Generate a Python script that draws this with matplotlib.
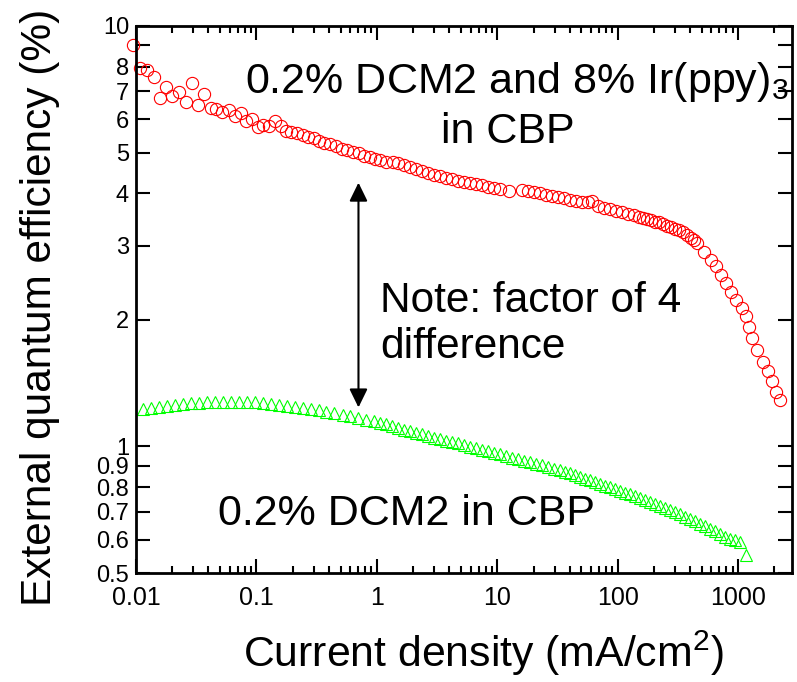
import matplotlib
matplotlib.use("Agg")
import matplotlib.pyplot as plt

plt.rcParams['font.family'] = ['Liberation Sans', 'DejaVu Sans']
plt.rcParams['mathtext.fontset'] = 'custom'
plt.rcParams['mathtext.rm'] = 'Liberation Sans'

# Red circles: 0.2% DCM2 and 8% Ir(ppy)3 in CBP
red_x = [0.0094, 0.0108, 0.0123, 0.0141, 0.0158, 0.0179, 0.0201, 0.0228, 0.0258, 0.0293,
         0.0328, 0.0368, 0.0416, 0.0466, 0.0522, 0.0594, 0.0660, 0.0740, 0.0826, 0.0926,
         0.1034, 0.1138, 0.127, 0.1436, 0.159, 0.177, 0.195, 0.216, 0.243, 0.267,
         0.298, 0.333, 0.367, 0.41, 0.46, 0.51, 0.567, 0.63, 0.71, 0.78,
         0.87, 0.97, 1.07, 1.19, 1.35, 1.51, 1.69, 1.90, 2.13, 2.39,
         2.67, 3.00, 3.37, 3.77, 4.23, 4.74, 5.32, 5.97, 6.68, 7.50,
         8.41, 9.42, 10.6, 12.6, 16.1, 18.0, 20.2, 22.7, 25.4, 28.5,
         32.0, 35.8, 40.2, 45.1, 50.5, 56.6, 61.1, 68.5, 76.9, 86.1,
         96.6, 108, 122, 136, 150, 162, 175, 188, 203, 219,
         237, 256, 276, 298, 321, 347, 374, 404, 428, 453,
         518, 592, 652, 716, 789, 867, 953, 1069, 1154, 1222,
         1294, 1422, 1596, 1754, 1893, 2045, 2208]
red_y = [9.0, 7.94, 7.85, 7.58, 6.73, 7.14, 6.82, 6.98, 6.61, 7.31,
         6.49, 6.90, 6.38, 6.34, 6.26, 6.32, 6.11, 6.20, 5.95, 6.01,
         5.76, 5.82, 5.79, 5.95, 5.79, 5.64, 5.61, 5.56, 5.51, 5.43,
         5.41, 5.34, 5.28, 5.25, 5.17, 5.10, 5.06, 5.01, 4.99, 4.91,
         4.87, 4.82, 4.80, 4.76, 4.75, 4.71, 4.66, 4.61, 4.56, 4.51,
         4.46, 4.43, 4.39, 4.36, 4.32, 4.28, 4.25, 4.23, 4.20, 4.18,
         4.15, 4.12, 4.09, 4.06, 4.08, 4.06, 4.03, 4.00, 3.97, 3.95,
         3.91, 3.89, 3.86, 3.84, 3.82, 3.81, 3.84, 3.74, 3.70, 3.67,
         3.64, 3.61, 3.58, 3.55, 3.52, 3.50, 3.47, 3.45, 3.42, 3.41,
         3.38, 3.35, 3.32, 3.29, 3.27, 3.23, 3.19, 3.14, 3.10, 3.05,
         2.90, 2.78, 2.68, 2.56, 2.45, 2.33, 2.23, 2.14, 2.04, 1.92,
         1.81, 1.70, 1.59, 1.51, 1.43, 1.35, 1.29]

# Green triangles: 0.2% DCM2 in CBP
green_x = [0.01143, 0.0133, 0.0155, 0.0181, 0.0210, 0.0245, 0.0286, 0.0333, 0.0387, 0.0451,
           0.0526, 0.0612, 0.0713, 0.0831, 0.0968, 0.1127, 0.1313, 0.153, 0.178, 0.2076,
           0.2418, 0.2817, 0.328, 0.382, 0.445, 0.519, 0.604, 0.704, 0.820, 0.955,
           1.071, 1.201, 1.346, 1.510, 1.693, 1.898, 2.128, 2.387, 2.677, 3.0,
           3.365, 3.773, 4.23, 4.745, 5.32, 5.965, 6.69, 7.50, 8.41, 9.43,
           10.57, 11.85, 13.29, 14.90, 16.71, 18.74, 21.01, 23.56, 26.41, 29.62,
           33.2, 36.5, 40.2, 44.2, 48.6, 53.5, 58.8, 64.7, 71.2, 78.3,
           86.2, 94.8, 104.3, 114.7, 126.2, 138.8, 152.7, 168.1, 184.9, 203.4,
           223.7, 246.0, 270.7, 297.8, 327.6, 360.5, 396.5, 436.1, 479.7, 527.8,
           580.6, 638.6, 702.5, 772.8, 850.3, 935.4, 1029, 1154]
green_y = [1.226, 1.233, 1.243, 1.251, 1.258, 1.262, 1.267, 1.271, 1.274, 1.277,
           1.279, 1.279, 1.279, 1.278, 1.276, 1.272, 1.265, 1.258, 1.249, 1.241,
           1.234, 1.225, 1.218, 1.208, 1.198, 1.189, 1.180, 1.170, 1.159, 1.147,
           1.137, 1.128, 1.118, 1.108, 1.097, 1.087, 1.077, 1.068, 1.059, 1.050,
           1.042, 1.033, 1.025, 1.017, 1.007, 0.998, 0.990, 0.982, 0.973, 0.965,
           0.957, 0.949, 0.941, 0.933, 0.925, 0.917, 0.909, 0.901, 0.893, 0.886,
           0.878, 0.871, 0.863, 0.855, 0.847, 0.839, 0.831, 0.823, 0.815, 0.807,
           0.800, 0.792, 0.785, 0.777, 0.769, 0.761, 0.754, 0.746, 0.738, 0.731,
           0.722, 0.714, 0.706, 0.697, 0.689, 0.680, 0.672, 0.663, 0.654, 0.646,
           0.637, 0.628, 0.618, 0.610, 0.603, 0.598, 0.591, 0.551]

x_ticks = [0.01, 0.1, 1, 10, 100, 1000]
x_ticklabels = ['0.01', '0.1', '1', '10', '100', '1000']
y_ticks = [0.5, 0.6, 0.7, 0.8, 0.9, 1, 2, 3, 4, 5, 6, 7, 8, 9, 10]
y_ticklabels = ['0.5', '0.6', '0.7', '0.8', '0.9', '1', '2', '3', '4', '5', '6', '7', '8', '', '10']
x_minor = [m * 10.0 ** e for e in range(-2, 4) for m in range(2, 10)]

fig = plt.figure(figsize=(7.97, 6.82), dpi=100)
ax = fig.add_axes([0.1706, 0.1598, 0.8231, 0.8021])
ax.set_xscale('log')
ax.set_yscale('log')
ax.set_xlim(0.01, 2800)
ax.set_ylim(0.5, 10)

ax.plot(red_x, red_y, linestyle='none', marker='o', markersize=8.8,
        markerfacecolor='none', markeredgecolor='#ff0000', markeredgewidth=0.8,
        clip_on=False)
ax.plot(green_x, green_y, linestyle='none', marker='^', markersize=8.8,
        markerfacecolor='none', markeredgecolor='#00ff00', markeredgewidth=0.8,
        clip_on=False)

ax.set_xticks(x_ticks)
ax.set_xticklabels(x_ticklabels)
ax.set_xticks([v for v in x_minor if v <= 2800], minor=True)
ax.set_xticklabels([], minor=True)
ax.set_yticks(y_ticks)
ax.set_yticklabels(y_ticklabels)
ax.set_yticks([], minor=True)

ax.tick_params(axis='both', which='major', direction='in', length=10, width=1.5,
               top=True, right=True)
ax.tick_params(axis='x', which='major', pad=9, labelsize=18)
ax.tick_params(axis='y', which='major', pad=5, labelsize=17)
ax.tick_params(axis='both', which='minor', direction='in', length=5, width=1.5,
               top=True, right=True)
for s in ax.spines.values():
    s.set_linewidth(2)

ax.set_xlabel('Current density (mA/cm$^{2}$)', fontsize=30.8, labelpad=14)
ax.xaxis.label.set_x(0.529)
ax.set_ylabel('External quantum efficiency (%)', fontsize=30.5, labelpad=26)
ax.yaxis.label.set_y(0.486)

ax.text(0.58, 0.898, '0.2% DCM2 and 8% Ir(ppy)$_{3}$', transform=ax.transAxes,
        fontsize=31, ha='center', va='center')
ax.text(0.567, 0.806, 'in CBP', transform=ax.transAxes,
        fontsize=31, ha='center', va='center')
ax.text(0.372, 0.455, 'Note: factor of 4\ndifference', transform=ax.transAxes,
        fontsize=30.5, ha='left', va='center', linespacing=1.2)
ax.text(0.125, 0.107, '0.2% DCM2 in CBP', transform=ax.transAxes,
        fontsize=31, ha='left', va='center')

ax.annotate('', xy=(0.704, 4.24), xytext=(0.704, 1.238),
            arrowprops=dict(arrowstyle='<|-|>,head_length=0.45,head_width=0.22',
                            color='black', lw=1.5,
                            mutation_scale=25, shrinkA=0, shrinkB=0))

fig.savefig('out.png', dpi=100)
